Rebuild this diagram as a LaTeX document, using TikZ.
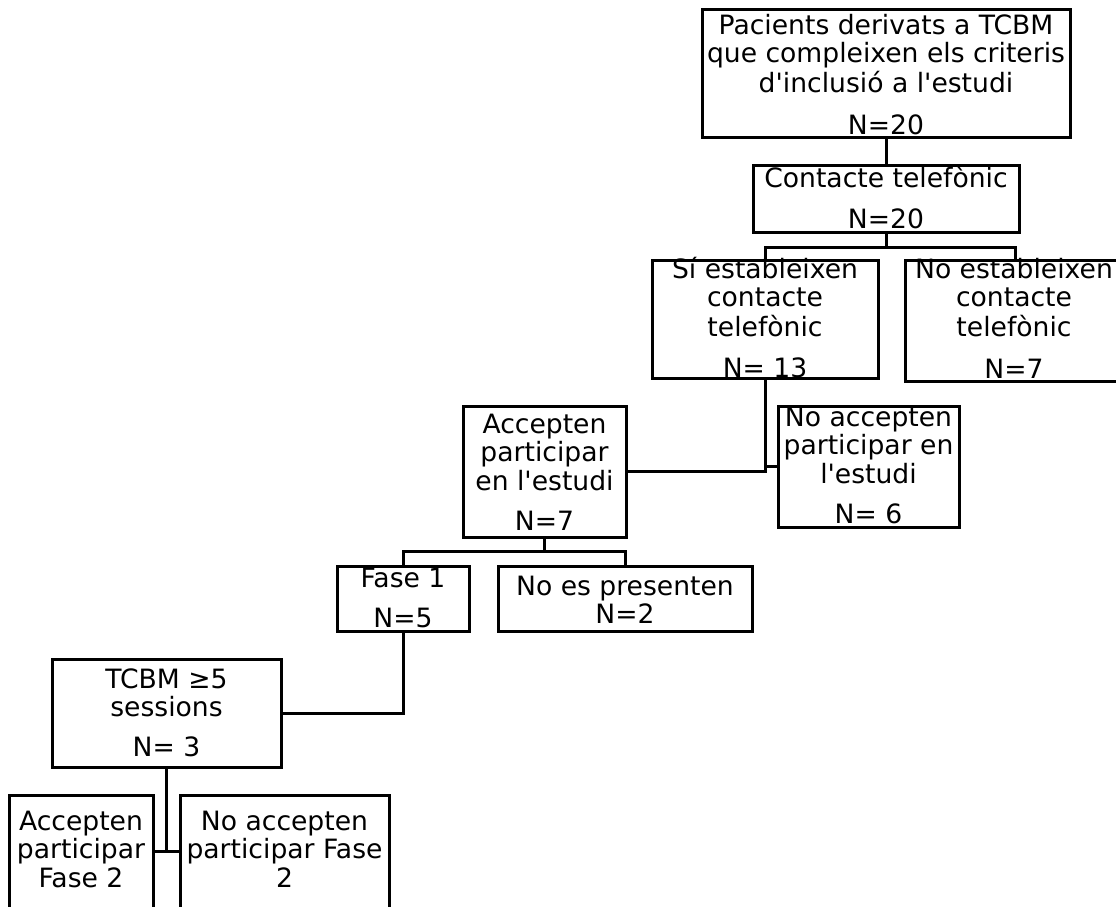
\documentclass[tikz,border=0pt]{standalone}
\usepackage{fontspec}
\setmainfont{DejaVu Sans}[Ligatures=TeXOff]
\newcommand\mylines[1]{\begin{tabular}[t]{@{}c@{}}#1\end{tabular}}
\tikzset{
  box/.style={draw, line width=3pt, rectangle, inner sep=0pt, outer sep=0pt},
  txt/.style={anchor=base, inner sep=0pt, outer sep=0pt,
    font=\fontsize{26.6}{28.5}\selectfont},
  conn/.style={draw, line width=3pt, line cap=rect}
}
\begin{document}
\begin{tikzpicture}[x=1pt, y=-1pt]
\useasboundingbox (0,0) rectangle (1116,906);
\clip (0,0) rectangle (1116,906);
\fill[white] (0,0) rectangle (1116,906);
% boxes: centre (x,y), width, height
\node[box, minimum width=368, minimum height=128] (top) at (886,73) {};
\node[box, minimum width=266, minimum height=67] (contact) at (886,198.5) {};
\node[box, minimum width=226, minimum height=118] (si) at (765,319) {};
\node[box, minimum width=220, minimum height=121] (noest) at (1015,320.5) {};
\node[box, minimum width=163, minimum height=131] (acc) at (544.5,471.5) {};
\node[box, minimum width=181, minimum height=121] (noacc) at (868.5,466.5) {};
\node[box, minimum width=132, minimum height=65] (fase1) at (403,598.5) {};
\node[box, minimum width=254, minimum height=65] (nopres) at (625,598.5) {};
\node[box, minimum width=229, minimum height=108] (tcbm) at (166.5,713) {};
\node[box, minimum width=144, minimum height=130] (accf2) at (81,860) {};
\node[box, minimum width=209, minimum height=130] (noaccf2) at (284.5,860) {};
% texts
\node[txt] (ttop) at (886,34) {\mylines{Pacients derivats a TCBM\\que compleixen els criteris\\d'inclusió a l'estudi\\[13pt] N=20}};
\node[txt] (tcontact) at (886,187) {\mylines{Contacte telefònic\\[12.5pt] N=20}};
\node[txt] (tsi) at (765,278) {\mylines{Sí estableixen\\contacte\\telefònic\\[13pt] N= 13}};
\node[txt] (tnoest) at (1014,278) {\mylines{No estableixen\\contacte\\telefònic\\[14pt] N=7}};
\node[txt] (tacc) at (544.5,433) {\mylines{Accepten\\participar\\en l'estudi\\[11pt] N=7}};
\node[txt] (tnoacc) at (868.5,426) {\mylines{No accepten\\participar en\\l'estudi\\[11pt] N= 6}};
\node[txt] (tfase1) at (403,587) {\mylines{Fase 1\\[11.5pt] N=5}};
\node[txt] (tnopres) at (625,595) {\mylines{No es presenten\\N=2}};
\node[txt] (ttcbm) at (166.5,688) {\mylines{TCBM ≥5\\sessions\\[11.5pt] N= 3}};
\node[txt] (taccf2) at (81,830) {\mylines{Accepten\\participar\\Fase 2}};
\node[txt] (tnoaccf2) at (284.5,830) {\mylines{No accepten\\participar Fase\\2}};
% connectors
\draw[conn] (top.south) -- (contact.north);
\draw[conn] (contact.south) -- ++(0,15) coordinate (j1);
\draw[conn] (si.north) |- (j1) -| (noest.north);
\draw[conn] (si.south) |- (acc.east);
\draw[conn] (si.south |- noacc.west) -- (noacc.west);
\draw[conn] (acc.south) -- ++(0,14) coordinate (j2);
\draw[conn] (fase1.north) |- (j2) -| (nopres.north);
\draw[conn] (fase1.south) |- (tcbm.east);
\draw[conn] (tcbm.south) -- (tcbm.south |- 0,851.5) coordinate (j3);
\draw[conn] (accf2.east |- j3) -- (noaccf2.west |- j3);
\end{tikzpicture}
\end{document}
